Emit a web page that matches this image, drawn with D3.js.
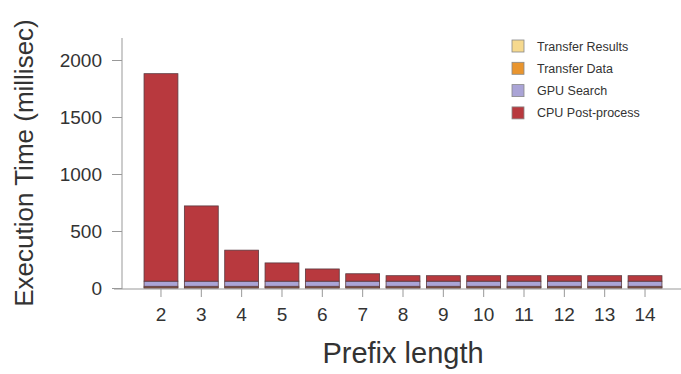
<!DOCTYPE html>
<html><head><meta charset="utf-8">
<script src="https://cdn.jsdelivr.net/npm/d3@7"></script>
<style>body{margin:0;background:#fff}</style>
</head><body>
<svg id="c" width="681" height="374"></svg>
<script>
const categories = ["2","3","4","5","6","7","8","9","10","11","12","13","14"];
const transferResults = [3,3,3,3,3,3,3,3,3,3,3,3,3];
const transferData    = [12,12,12,12,12,12,12,12,12,12,12,12,12];
const gpuSearch       = [45,45,45,45,45,45,45,45,45,45,45,45,45];
const cpuPost         = [1820,660,272,160,107,65,48,48,48,48,48,48,48];
const yTicks = [0,500,1000,1500,2000];
const seriesNames = ["Transfer Results","Transfer Data","GPU Search","CPU Post-process"];
const colors = {"Transfer Results":"#f6d98e","Transfer Data":"#e9952e","GPU Search":"#aaa4d6","CPU Post-process":"#b8393e"};
const FONT = "Liberation Sans, Arial, Helvetica, sans-serif";

const svg = d3.select("#c");
const rows = categories.map((c,i)=>({cat:c,"Transfer Results":transferResults[i],"Transfer Data":transferData[i],"GPU Search":gpuSearch[i],"CPU Post-process":cpuPost[i]}));
const stackOrder = ["Transfer Results","Transfer Data","GPU Search","CPU Post-process"];
const stacked = d3.stack().keys(stackOrder)(rows);

const x = d3.scaleBand().domain(categories).range([140,666]).paddingInner(0.16).paddingOuter(0.1);
const y = d3.scaleLinear().domain([0,2000]).range([288,60]);

// axes
const yAxis = svg.append("g").attr("transform","translate(122,0)")
  .call(d3.axisLeft(y).tickValues(yTicks).tickFormat(d3.format("d")).tickSize(10).tickPadding(10).tickSizeOuter(0));
yAxis.select(".domain").attr("d","M0,38V289").attr("stroke","#999");
yAxis.selectAll(".tick line").attr("stroke","#999");
yAxis.selectAll("text").attr("font-family",FONT).attr("font-size",19).attr("fill","#333");

const xAxis = svg.append("g").attr("transform","translate(0,289)")
  .call(d3.axisBottom(x).tickSize(8).tickPadding(11).tickSizeOuter(0));
xAxis.select(".domain").attr("d","M114,0H681").attr("stroke","#999");
xAxis.selectAll(".tick line").attr("stroke","#999");
xAxis.selectAll("text").attr("font-family",FONT).attr("font-size",19).attr("fill","#333");

// bars
svg.append("g").selectAll("g").data(stacked).join("g")
  .attr("fill",d=>colors[d.key])
  .selectAll("rect").data(d=>d).join("rect")
  .attr("x",d=>x(d.data.cat)).attr("width",x.bandwidth())
  .attr("y",d=>y(d[1])).attr("height",d=>y(d[0])-y(d[1]))
  .attr("stroke","#5a3a40").attr("stroke-width",0.8);

// titles
svg.append("text").attr("x",403).attr("y",363).attr("text-anchor","middle")
  .attr("font-family",FONT).attr("font-size",29).attr("fill","#333").text("Prefix length");
svg.append("text").attr("transform","translate(33,163) rotate(-90)").attr("text-anchor","middle")
  .attr("font-family",FONT).attr("font-size",26).attr("fill","#333").text("Execution Time (millisec)");

// legend
const lg = svg.append("g");
seriesNames.forEach((n,i)=>{
  const yy = 46 + i*22.3;
  lg.append("rect").attr("x",512).attr("y",yy-6).attr("width",12).attr("height",12)
    .attr("fill",colors[n]).attr("stroke","#888").attr("stroke-width",0.8);
  lg.append("text").attr("x",537).attr("y",yy+4.5).attr("font-family",FONT)
    .attr("font-size",12.5).attr("fill","#333").text(n);
});
</script>
</body></html>
